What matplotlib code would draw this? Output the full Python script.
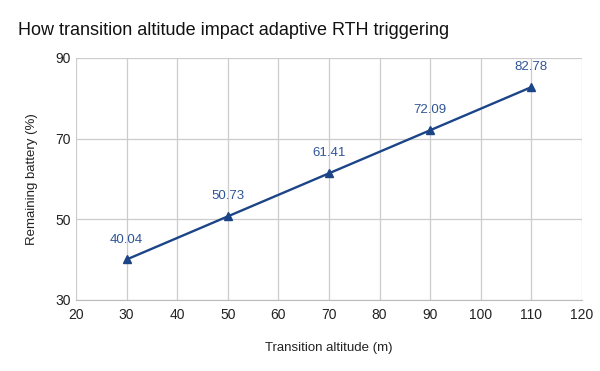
import matplotlib
matplotlib.use("Agg")
import matplotlib.pyplot as plt

# Data
altitude = [30, 50, 70, 90, 110]
battery = [40.04, 50.73, 61.41, 72.09, 82.78]
xticks = [20, 30, 40, 50, 60, 70, 80, 90, 100, 110, 120]
yticks = [30, 50, 70, 90]

line_color = '#1c4587'
label_color = '#2f5597'

plt.rcParams['font.family'] = ['Liberation Sans', 'DejaVu Sans']

fig = plt.figure(figsize=(6, 3.71), dpi=100)
ax = fig.add_axes([0.1267, 0.1914, 0.8433, 0.6523])

ax.plot(altitude, battery, color=line_color, lw=1.7, marker='^', ms=6,
        zorder=3, clip_on=False)
for x, y in zip(altitude, battery):
    ax.annotate('{:.2f}'.format(y), (x, y), xytext=(0, 10), textcoords='offset points',
                ha='center', va='bottom', color=label_color, fontsize=9.5)

ax.set_xlim(20, 120)
ax.set_ylim(30, 90)
ax.set_xticks(xticks)
ax.set_yticks(yticks)
ax.grid(True, color='#cccccc', lw=0.9)
ax.set_axisbelow(True)
for s in ax.spines.values():
    s.set_visible(False)
ax.spines['bottom'].set_visible(True)
ax.spines['bottom'].set_color('#bbbbbb')
ax.tick_params(length=0, labelsize=10, colors='#222222')
ax.tick_params(axis='x', pad=6)
ax.tick_params(axis='y', pad=4)

ax.set_xlabel('Transition altitude (m)', fontsize=9.5, labelpad=14, color='#222222')
ax.set_ylabel('Remaining battery (%)', fontsize=9.5, labelpad=12, color='#222222')

fig.text(0.03, 0.918, 'How transition altitude impact adaptive RTH triggering',
         fontsize=13, va='center', ha='left', color='#111111')

fig.savefig('out.png', dpi=100)
